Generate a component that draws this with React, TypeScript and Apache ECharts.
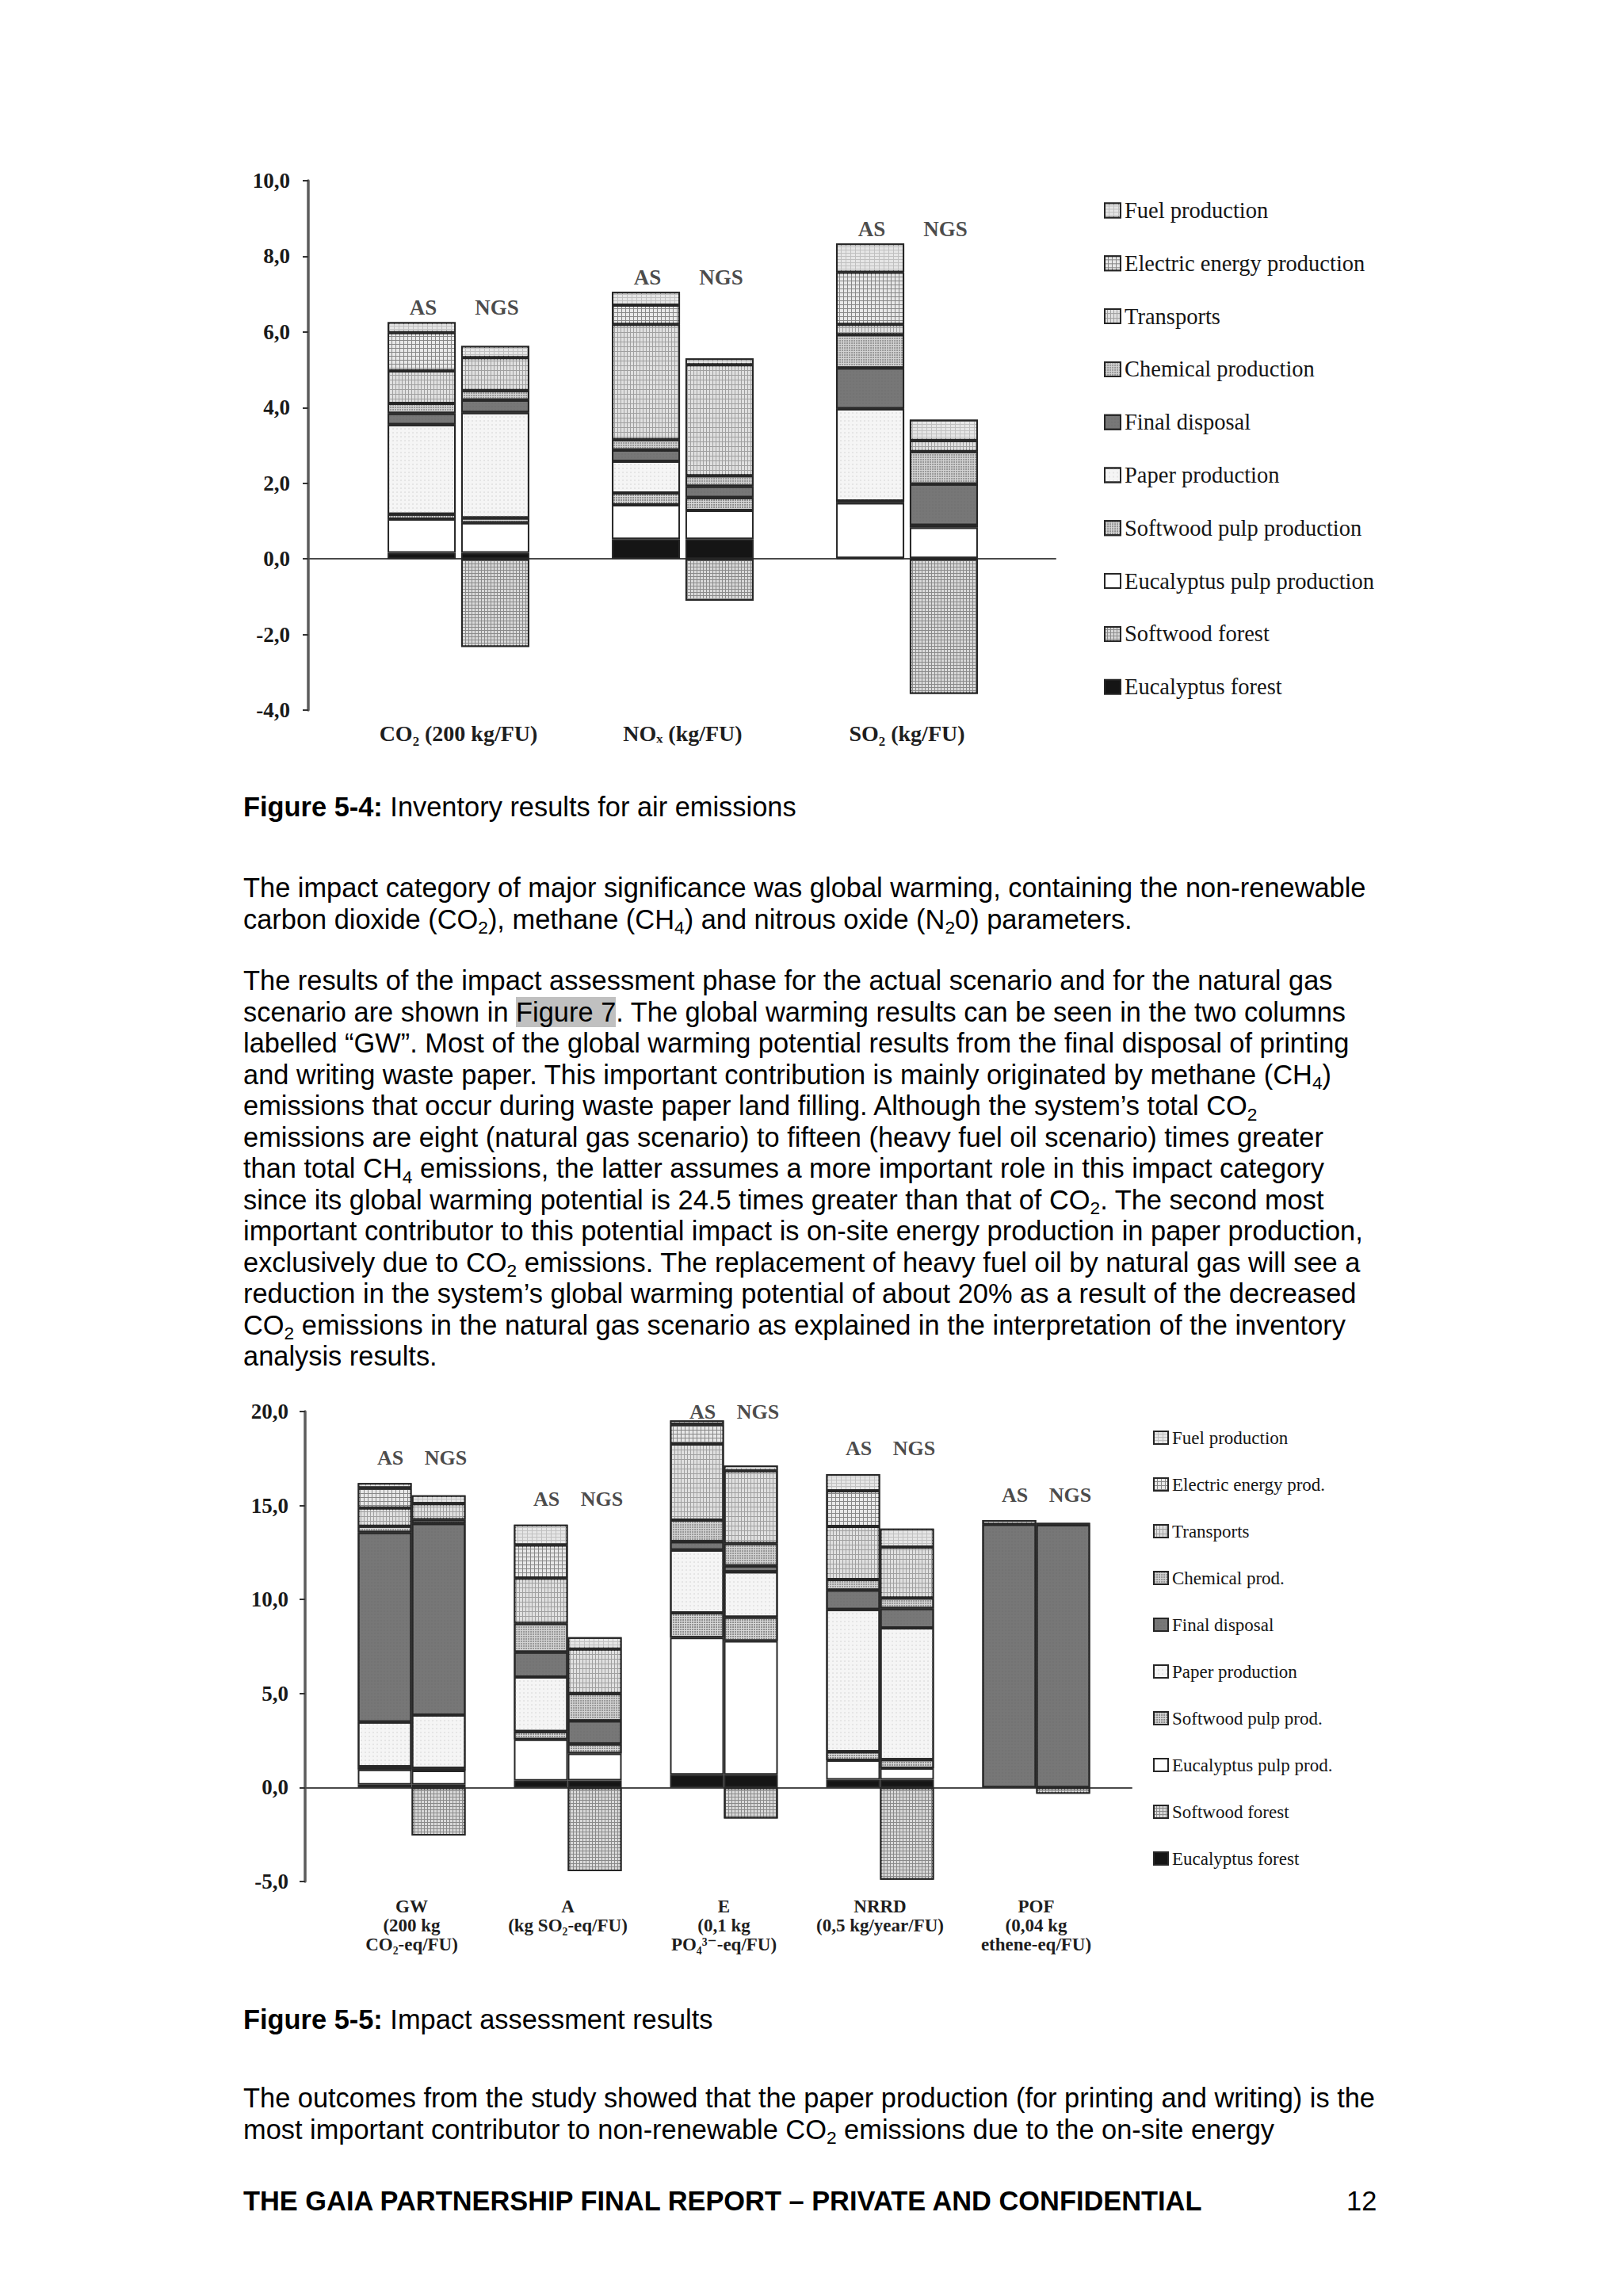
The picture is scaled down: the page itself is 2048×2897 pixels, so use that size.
import React, { useEffect, useRef } from 'react';
import * as echarts from 'echarts';

// ---------- DATA ----------
// stacking order, bottom to top
const airComponents = [
  'Eucalyptus forest', 'Softwood forest', 'Eucalyptus pulp production', 'Softwood pulp production',
  'Paper production', 'Final disposal', 'Chemical production', 'Transports',
  'Electric energy production', 'Fuel production',
];
const impactComponents = [
  'Eucalyptus forest', 'Softwood forest', 'Eucalyptus pulp prod.', 'Softwood pulp prod.',
  'Paper production', 'Final disposal', 'Chemical prod.', 'Transports',
  'Electric energy prod.', 'Fuel production',
];
const scenarios = ['AS', 'NGS'];

const airCategories = ['CO₂ (200 kg/FU)', 'NOₓ (kg/FU)', 'SO₂ (kg/FU)'];
const airYTicks = [-4, -2, 0, 2, 4, 6, 8, 10];
// values per category, one entry per component (bottom to top)
const air_AS_CO2 = [0.16, 0, 0.89, 0.13, 2.37, 0.30, 0.26, 0.86, 1.01, 0.28];
const air_NGS_CO2 = [0.16, -2.33, 0.79, 0.13, 2.79, 0.33, 0.25, 0.87, 0, 0.31];
const air_AS_NOx = [0.52, 0, 0.91, 0.31, 0.84, 0.30, 0.27, 3.05, 0.51, 0.35];
const air_NGS_NOx = [0.52, -1.11, 0.76, 0.34, 0, 0.30, 0.28, 2.93, 0, 0.17];
const air_AS_SO2 = [0.02, 0, 1.46, 0.05, 2.44, 1.08, 0.88, 0.27, 1.38, 0.76];
const air_NGS_SO2 = [0.02, -3.57, 0.81, 0.06, 0, 1.09, 0.86, 0.29, 0, 0.55];

const impactCategories = [
  'GW\n(200 kg\nCO₂-eq/FU)',
  'A\n(kg SO₂-eq/FU)',
  'E\n(0,1 kg\nPO₄³⁻-eq/FU)',
  'NRRD\n(0,5 kg/year/FU)',
  'POF\n(0,04 kg\nethene-eq/FU)',
];
const impactYTicks = [-5, 0, 5, 10, 15, 20];
const imp_AS_GW = [0.15, 0, 0.80, 0.15, 2.38, 10.09, 0.33, 0.97, 1.06, 0.26];
const imp_NGS_GW = [0.15, -2.55, 0.75, 0.12, 2.83, 10.20, 0.20, 0.85, 0, 0.44];
const imp_AS_A = [0.36, 0, 2.20, 0.42, 2.90, 1.33, 1.51, 2.42, 1.76, 1.08];
const imp_NGS_A = [0.38, -4.45, 1.43, 0.50, 0, 1.24, 1.45, 2.36, 0, 0.64];
const imp_AS_E = [0.68, 0, 7.29, 1.32, 3.34, 0.45, 1.14, 4.05, 1.04, 0.22];
const imp_NGS_E = [0.68, -1.65, 7.11, 1.27, 2.41, 0.32, 1.19, 3.87, 0, 0.28];
const imp_AS_NRRD = [0.42, 0, 1.03, 0.45, 7.57, 1.03, 0.56, 2.83, 1.89, 0.89];
const imp_NGS_NRRD = [0.42, -4.90, 0.61, 0.45, 7.01, 1.03, 0.56, 2.71, 0, 0.98];
const imp_AS_POF = [0, 0, 0, 0, 0, 14.00, 0, 0, 0, 0.22];
const imp_NGS_POF = [0, -0.33, 0, 0, 0, 13.98, 0, 0, 0, 0.10];

const airData = [
  [air_AS_CO2, air_AS_NOx, air_AS_SO2],
  [air_NGS_CO2, air_NGS_NOx, air_NGS_SO2],
];
const impactData = [
  [imp_AS_GW, imp_AS_A, imp_AS_E, imp_AS_NRRD, imp_AS_POF],
  [imp_NGS_GW, imp_NGS_A, imp_NGS_E, imp_NGS_NRRD, imp_NGS_POF],
];

// ---------- STYLES ----------
const serif = "'Liberation Serif', 'DejaVu Serif', 'Times New Roman', serif";
const sans = "'Liberation Sans', Arial, Helvetica, sans-serif";
const borderColor = '#262626';

const componentStyles: any[] = [
  { color: '#151515' },
  { color: '#8a8a8a', decal: { symbol: 'rect', symbolSize: 1, dashArrayX: [3, 1], dashArrayY: [3, 1], color: '#dadada' } },
  { color: '#ffffff' },
  { color: '#d8d8d8', decal: { symbol: 'circle', symbolSize: 0.9, dashArrayX: [2, 1], dashArrayY: [2, 1], color: '#747474' } },
  { color: '#f5f5f5', decal: { symbol: 'circle', symbolSize: 0.7, dashArrayX: [2, 3], dashArrayY: [2, 3], color: '#cdcdcd' } },
  { color: '#777777', decal: { symbol: 'rect', symbolSize: 0.5, dashArrayX: [2, 2], dashArrayY: [2, 2], color: '#656565' } },
  { color: '#d2d2d2', decal: { symbol: 'circle', symbolSize: 0.9, dashArrayX: [2, 1], dashArrayY: [2, 1], color: '#858585' } },
  { color: '#a0a0a0', decal: { symbol: 'rect', symbolSize: 1, dashArrayX: [3, 1], dashArrayY: [5, 1], color: '#e0e0e0' } },
  { color: '#888888', decal: { symbol: 'rect', symbolSize: 1, dashArrayX: [4, 1], dashArrayY: [4, 1], color: '#e8e8e8' } },
  { color: '#c0c0c0', decal: { symbol: 'rect', symbolSize: 1, dashArrayX: [5, 1], dashArrayY: [3, 1], color: '#e6e6e6' } },
];

const fmt = (v: number) => v.toFixed(1).replace('.', ',');

function positiveSum(arr: number[]) {
  return arr.reduce((s, v) => (v > 0 ? s + v : s), 0);
}

function buildBars(components: string[], data: number[][][], axisIndex: number, barWidth: number, barGap: string) {
  const out: any[] = [];
  data.forEach((scenarioArrays, s) => {
    components.forEach((name, i) => {
      out.push({
        type: 'bar',
        name,
        stack: scenarios[s] + '_' + axisIndex,
        xAxisIndex: axisIndex,
        yAxisIndex: axisIndex,
        barWidth,
        barGap,
        data: scenarioArrays.map((arr) => (arr[i] === 0 ? null : arr[i])),
        itemStyle: { ...componentStyles[i], borderColor, borderWidth: 2 },
        silent: true,
      });
    });
  });
  return out;
}

function buildLabels(data: number[][][], axisIndex: number, lift: number, yMax: number, boxWidth: number, fontSize: number, dx: number) {
  const values = data[0].map((_, c) =>
    Math.min(yMax, Math.max(positiveSum(data[0][c]), positiveSum(data[1][c])) + lift)
  );
  const box = { width: boxWidth, align: 'center', fontFamily: serif, fontWeight: 'bold', fontSize, color: '#1a1a1a' };
  return {
    type: 'scatter',
    xAxisIndex: axisIndex,
    yAxisIndex: axisIndex,
    data: values,
    symbolSize: 1,
    itemStyle: { color: 'transparent' },
    silent: true,
    z: 10,
    label: {
      show: true,
      position: 'inside',
      offset: [dx, 0],
      formatter: '{a|' + scenarios[0] + '}{b|' + scenarios[1] + '}',
      rich: { a: box, b: box },
    },
  };
}

function valueAxis(ticks: number[], gridIndex: number, offset: number, labelSize: number, margin: number) {
  return {
    type: 'value',
    gridIndex,
    min: ticks[0],
    max: ticks[ticks.length - 1],
    interval: ticks[1] - ticks[0],
    offset,
    axisLine: { show: true, lineStyle: { color: '#5c5c5c', width: 3.5 } },
    axisTick: { show: true, length: 7, lineStyle: { color: '#333', width: 2 } },
    axisLabel: { formatter: fmt, fontFamily: serif, fontWeight: 'bold', fontSize: labelSize, color: '#1a1a1a', margin },
    splitLine: { show: false },
  };
}

function zeroLineAxes(ticks: number[], gridIndex: number) {
  return {
    x: {
      type: 'value', gridIndex, min: 0, max: 1,
      axisLine: { show: true, onZero: true, lineStyle: { color: '#4a4a4a', width: 2 } },
      axisTick: { show: false }, axisLabel: { show: false }, splitLine: { show: false },
    },
    y: {
      type: 'value', gridIndex, min: ticks[0], max: ticks[ticks.length - 1],
      axisLine: { show: false }, axisTick: { show: false }, axisLabel: { show: false }, splitLine: { show: false },
    },
  };
}

function Chart() {
  const ref = useRef<HTMLDivElement>(null);
  useEffect(() => {
    if (!ref.current) return;
    const chart = echarts.init(ref.current, undefined, { renderer: 'svg' });
    const z1 = zeroLineAxes(airYTicks, 1);
    const z2 = zeroLineAxes(impactYTicks, 3);
    chart.setOption({
      animation: false,
      backgroundColor: '#ffffff',
      grid: [
        { left: 437, top: 228, width: 849, height: 668 },
        { left: 389, top: 228, width: 943, height: 668 },
        { left: 421, top: 1781, width: 985, height: 593 },
        { left: 385, top: 1781, width: 1043, height: 593 },
      ],
      xAxis: [
        {
          type: 'category', gridIndex: 0, data: airCategories,
          axisLine: { show: false, onZero: false }, axisTick: { show: false },
          axisLabel: { interval: 0, margin: 15, fontFamily: serif, fontWeight: 'bold', fontSize: 28, color: '#1e1e1e' },
        },
        z1.x,
        {
          type: 'category', gridIndex: 2, data: impactCategories,
          axisLine: { show: false, onZero: false }, axisTick: { show: false },
          axisLabel: { interval: 0, margin: 19, fontFamily: serif, fontWeight: 'bold', fontSize: 23, lineHeight: 24, color: '#1e1e1e' },
        },
        z2.x,
      ],
      yAxis: [
        valueAxis(airYTicks, 0, 48, 27, 23),
        z1.y,
        valueAxis(impactYTicks, 2, 36, 27, 21),
        z2.y,
      ],
      legend: [
        {
          data: [...airComponents].reverse(), orient: 'vertical', left: 1388, top: 246,
          itemWidth: 20, itemHeight: 18, itemGap: 37.8, icon: 'rect', selectedMode: false,
          textStyle: { fontFamily: serif, fontSize: 28.5, lineHeight: 28, color: '#151515' },
        },
        {
          data: [...impactComponents].reverse(), orient: 'vertical', left: 1450, top: 1797.5,
          itemWidth: 18, itemHeight: 16, itemGap: 36, icon: 'rect', selectedMode: false,
          textStyle: { fontFamily: serif, fontSize: 23, lineHeight: 23, color: '#151515' },
        },
      ],
      series: [
        ...buildBars(airComponents, airData, 0, 86, '8%'),
        buildLabels(airData, 0, 0.38, airYTicks[airYTicks.length - 1], 93, 27, 2),
        ...buildBars(impactComponents, impactData, 2, 68, '0%'),
        buildLabels(impactData, 2, 1.35, impactYTicks[impactYTicks.length - 1], 70, 26, 8),
      ],
    });
    return () => chart.dispose();
  }, []);
  return <div ref={ref} style={{ position: 'absolute', left: 0, top: 0, width: 2048, height: 2897 }} />;
}

// ---------- TEXT ----------
const subStyle: React.CSSProperties = { fontSize: '0.66em', position: 'relative', top: '0.3em', lineHeight: 0 };
const Sub = ({ c }: { c: string }) => <span style={subStyle}>{c}</span>;

const textBase: React.CSSProperties = {
  position: 'absolute', left: 307, whiteSpace: 'nowrap', fontFamily: sans, fontSize: 34.4,
  lineHeight: '39.5px', color: '#000', zIndex: 2,
};

function Block({ top, lines, bold }: { top: number; lines: React.ReactNode[]; bold?: boolean }) {
  return (
    <div style={{ ...textBase, top, fontWeight: bold ? 'bold' : 'normal' }}>
      {lines.map((l, i) => <div key={i}>{l}</div>)}
    </div>
  );
}

export default function App() {
  useEffect(() => {
    document.body.style.margin = '0';
    document.body.style.overflow = 'hidden';
  }, []);
  return (
    <div style={{ position: 'absolute', left: 0, top: 0, width: 2048, height: 2897, background: '#fff', overflow: 'hidden' }}>
      <Chart />
      <Block top={999} lines={[<><b>Figure 5-4:</b> Inventory results for air emissions</>]} />
      <Block top={1101} lines={[
        'The impact category of major significance was global warming, containing the non-renewable',
        <>carbon dioxide (CO<Sub c="2" />), methane (CH<Sub c="4" />) and nitrous oxide (N<Sub c="2" />0) parameters.</>,
      ]} />
      <Block top={1218} lines={[
        'The results of the impact assessment phase for the actual scenario and for the natural gas',
        <>scenario are shown in <span style={{ background: '#c0c0c0' }}>Figure 7</span>. The global warming results can be seen in the two columns</>,
        'labelled “GW”. Most of the global warming potential results from the final disposal of printing',
        <>and writing waste paper. This important contribution is mainly originated by methane (CH<Sub c="4" />)</>,
        <>emissions that occur during waste paper land filling. Although the system’s total CO<Sub c="2" /></>,
        'emissions are eight (natural gas scenario) to fifteen (heavy fuel oil scenario) times greater',
        <>than total CH<Sub c="4" /> emissions, the latter assumes a more important role in this impact category</>,
        <>since its global warming potential is 24.5 times greater than that of CO<Sub c="2" />. The second most</>,
        'important contributor to this potential impact is on-site energy production in paper production,',
        <>exclusively due to CO<Sub c="2" /> emissions. The replacement of heavy fuel oil by natural gas will see a</>,
        'reduction in the system’s global warming potential of about 20% as a result of the decreased',
        <>CO<Sub c="2" /> emissions in the natural gas scenario as explained in the interpretation of the inventory</>,
        'analysis results.',
      ]} />
      <Block top={2529} lines={[<><b>Figure 5-5:</b> Impact assessment results</>]} />
      <Block top={2628} lines={[
        'The outcomes from the study showed that the paper production (for printing and writing) is the',
        <>most important contributor to non-renewable CO<Sub c="2" /> emissions due to the on-site energy</>,
      ]} />
      <Block top={2758} bold lines={['THE GAIA PARTNERSHIP FINAL REPORT – PRIVATE AND CONFIDENTIAL']} />
      <div style={{ ...textBase, left: 1699, top: 2758 }}>12</div>
    </div>
  );
}
